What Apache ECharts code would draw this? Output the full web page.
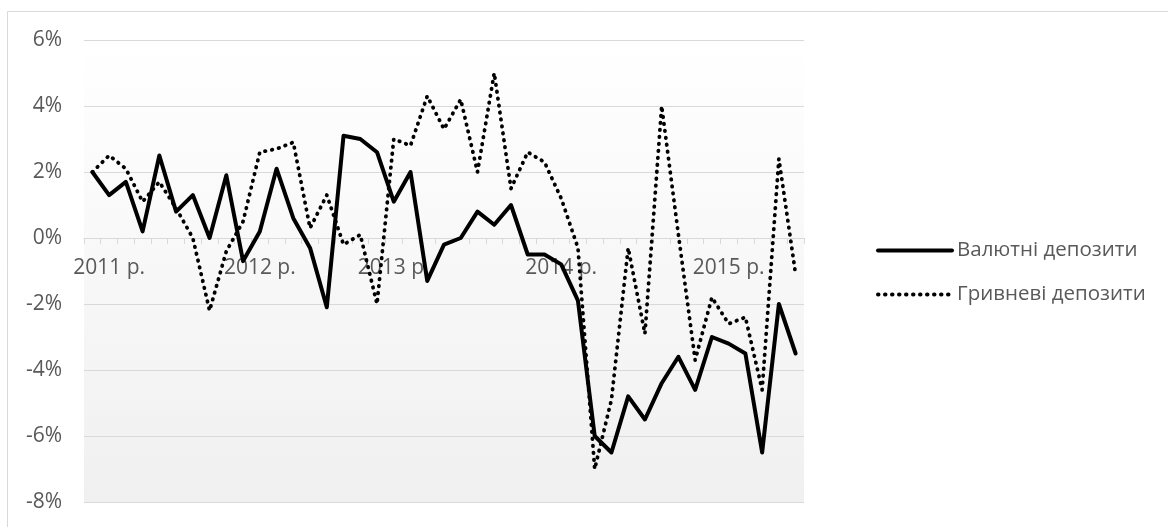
<!DOCTYPE html>
<html>
<head>
<meta charset="utf-8">
<script src="https://cdn.jsdelivr.net/npm/echarts@6/dist/echarts.min.js"></script>
<style>
html,body{margin:0;padding:0;background:#fff;}
#chart{width:1168px;height:527px;}
</style>
</head>
<body>
<div id="chart"></div>
<script>
// Category labels (monthly points, year labels as shown on the axis)
const categories = ['', '2011 р.', '', '', '', '', '', '', '', '', '2012 р.', '', '', '', '', '', '', '', '2013 р.', '', '', '', '', '', '', '', '', '', '2014 р.', '', '', '', '', '', '', '', '', '', '2015 р.', '', '', '', ''];
const seriesNames = ['Валютні депозити', 'Гривневі депозити'];
const valutaDeposits = [2.0, 1.3, 1.7, 0.2, 2.5, 0.8, 1.3, 0.0, 1.9, -0.7, 0.2, 2.1, 0.6, -0.3, -2.1, 3.1, 3.0, 2.6, 1.1, 2.0, -1.3, -0.2, 0.0, 0.8, 0.4, 1.0, -0.5, -0.5, -0.8, -1.9, -6.0, -6.5, -4.8, -5.5, -4.4, -3.6, -4.6, -3.0, -3.2, -3.5, -6.5, -2.0, -3.5];
const hryvniaDeposits = [2.0, 2.5, 2.1, 1.1, 1.7, 0.9, 0.0, -2.2, -0.4, 0.5, 2.6, 2.7, 2.9, 0.3, 1.3, -0.2, 0.1, -2.0, 3.0, 2.8, 4.3, 3.3, 4.2, 2.0, 5.0, 1.5, 2.6, 2.3, 1.2, -0.3, -7.0, -4.9, -0.3, -2.9, 4.0, 0.1, -3.7, -1.8, -2.6, -2.4, -4.6, 2.4, -1.1];
const yMin = -8, yMax = 6, yStep = 2;

const FONT = '"Open Sans", sans-serif';
const GRID_TOP = 40, GRID_BOTTOM = 25, PLOT_H = 527 - GRID_TOP - GRID_BOTTOM;
// move x axis up to the zero line via offset (computed from the axis range)
const zeroOffset = -PLOT_H * (0 - yMin) / (yMax - yMin);

const chart = echarts.init(document.getElementById('chart'), null, {renderer: 'canvas'});
chart.setOption({
  animation: false,
  backgroundColor: '#ffffff',
  graphic: [{
    type: 'rect', left: 5, top: 9, z: -10,
    shape: {width: 1300, height: 700},
    style: {fill: 'none', stroke: '#d9d9d9', lineWidth: 1}
  }],
  grid: {
    left: 84, right: 364, top: GRID_TOP, bottom: GRID_BOTTOM,
    show: true, borderWidth: 0,
    backgroundColor: new echarts.graphic.LinearGradient(0, 0, 0, 1, [
      {offset: 0, color: '#ffffff'},
      {offset: 1, color: '#f0f0f0'}
    ])
  },
  legend: {
    orient: 'vertical',
    left: 871, top: 235,
    itemWidth: 74, itemHeight: 14, itemGap: 23,
    itemStyle: {opacity: 0},
    lineStyle: {width: 4},
    textStyle: {fontFamily: FONT, fontSize: 20.5, color: '#595959', lineHeight: 21},
    data: seriesNames
  },
  xAxis: {
    type: 'category',
    data: categories,
    boundaryGap: true,
    offset: zeroOffset,
    axisLine: {onZero: false, lineStyle: {color: '#d9d9d9', width: 1}},
    axisTick: {show: true, interval: 0, length: 6, inside: false, lineStyle: {color: '#d9d9d9'}},
    axisLabel: {interval: 0, hideOverlap: false, margin: 20, color: '#595959', fontFamily: FONT, fontSize: 21},
    splitLine: {show: false}
  },
  yAxis: {
    type: 'value',
    min: yMin, max: yMax, interval: yStep,
    axisLine: {show: false},
    axisTick: {show: false},
    axisLabel: {formatter: '{value}%', margin: 22, color: '#595959', fontFamily: FONT, fontSize: 21},
    splitLine: {lineStyle: {color: '#d9d9d9', width: 1}}
  },
  series: [
    {
      name: seriesNames[0], type: 'line', data: valutaDeposits,
      symbol: 'none', z: 3,
      lineStyle: {color: '#000000', width: 4, join: 'round', cap: 'round'},
      itemStyle: {color: '#000000'}
    },
    {
      name: seriesNames[1], type: 'line', data: hryvniaDeposits,
      symbol: 'none', z: 2,
      lineStyle: {color: '#000000', width: 3.8, type: [0.5, 6.5], cap: 'round', join: 'round'},
      itemStyle: {color: '#000000'}
    }
  ]
});
</script>
</body>
</html>
